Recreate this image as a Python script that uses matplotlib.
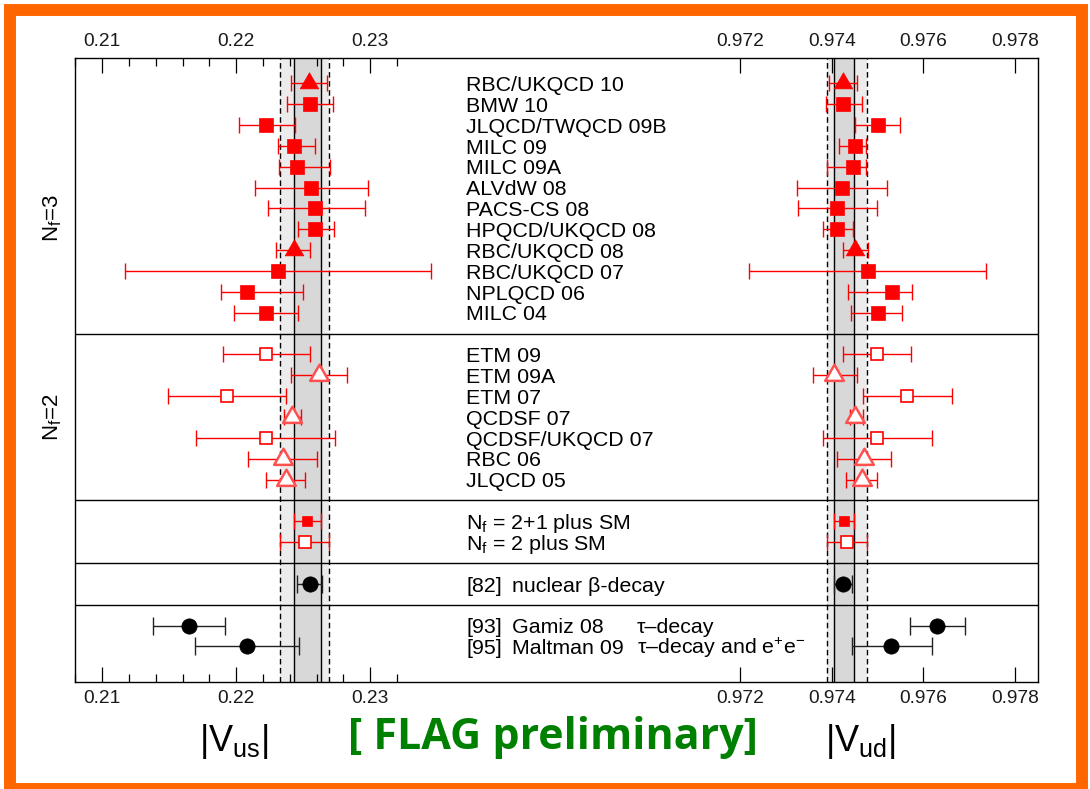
import numpy as np
import matplotlib
matplotlib.use("Agg")
import matplotlib.pyplot as plt
from matplotlib.patches import Rectangle
from matplotlib.path import Path
from matplotlib.transforms import blended_transform_factory

plt.rcParams['font.family'] = ['Liberation Sans', 'DejaVu Sans']
plt.rcParams['mathtext.fontset'] = 'custom'
plt.rcParams['mathtext.rm'] = 'Liberation Sans'
plt.rcParams['mathtext.it'] = 'Liberation Sans:italic'
plt.rcParams['mathtext.bf'] = 'Liberation Sans:bold'

# --- N_f = 3 results ---
labels_nf3 = ['RBC/UKQCD 10', 'BMW 10', 'JLQCD/TWQCD 09B', 'MILC 09', 'MILC 09A',
              'ALVdW 08', 'PACS-CS 08', 'HPQCD/UKQCD 08', 'RBC/UKQCD 08',
              'RBC/UKQCD 07', 'NPLQCD 06', 'MILC 04']
kind_nf3 = ['tri', 'sq', 'sq', 'sq', 'sq', 'sq', 'sq', 'sq', 'tri', 'sq', 'sq', 'sq']
vus_nf3 = [0.2254, 0.2255, 0.2222, 0.2243, 0.2245, 0.2256, 0.2259, 0.2259, 0.2243, 0.2231, 0.2208, 0.2222]
vus_nf3_lo = [0.2241, 0.2238, 0.2202, 0.2231, 0.2232, 0.2214, 0.2224, 0.2246, 0.2230, 0.2117, 0.2189, 0.2198]
vus_nf3_hi = [0.2268, 0.2272, 0.2244, 0.2259, 0.2270, 0.2298, 0.2296, 0.2273, 0.2255, 0.2345, 0.2250, 0.2246]
vud_nf3 = [0.97425, 0.97425, 0.97500, 0.97450, 0.97447, 0.97422, 0.97412, 0.97412, 0.97451, 0.97478, 0.97531, 0.97500]
vud_nf3_lo = [0.97393, 0.97387, 0.97451, 0.97415, 0.97389, 0.97324, 0.97327, 0.97380, 0.97424, 0.97220, 0.97436, 0.97442]
vud_nf3_hi = [0.97455, 0.97465, 0.97548, 0.97475, 0.97475, 0.97520, 0.97498, 0.97446, 0.97479, 0.97737, 0.97575, 0.97554]

# --- N_f = 2 results ---
labels_nf2 = ['ETM 09', 'ETM 09A', 'ETM 07', 'QCDSF 07', 'QCDSF/UKQCD 07', 'RBC 06', 'JLQCD 05']
kind_nf2 = ['sq', 'tri', 'sq', 'tri', 'sq', 'tri', 'tri']
vus_nf2 = [0.2222, 0.2262, 0.2193, 0.2242, 0.2222, 0.2235, 0.2237]
vus_nf2_lo = [0.2190, 0.2241, 0.2149, 0.2236, 0.2170, 0.2209, 0.2222]
vus_nf2_hi = [0.2255, 0.2283, 0.2237, 0.2248, 0.2274, 0.2260, 0.2251]
vud_nf2 = [0.97498, 0.97405, 0.97565, 0.97451, 0.97498, 0.97470, 0.97466]
vud_nf2_lo = [0.97424, 0.97358, 0.97467, 0.97440, 0.97380, 0.97411, 0.97430]
vud_nf2_hi = [0.97573, 0.97455, 0.97662, 0.97469, 0.97619, 0.97530, 0.97498]

# --- lattice + Standard Model averages (also give the bands) ---
labels_sm = [r'N$_\mathrm{f}$ = 2+1 plus SM', r'N$_\mathrm{f}$ = 2 plus SM']
vus_sm = [0.2253, 0.2251]
vus_sm_lo = [0.2243, 0.2233]
vus_sm_hi = [0.2263, 0.2269]
vud_sm = [0.97427, 0.97432]
vud_sm_lo = [0.97405, 0.97389]
vud_sm_hi = [0.97448, 0.97476]

# --- nuclear beta decay ---
ref_beta = '[82]'
label_beta = 'nuclear \u03b2-decay'
vus_beta, vus_beta_lo, vus_beta_hi = 0.2255, 0.2245, 0.2264
vud_beta, vud_beta_lo, vud_beta_hi = 0.97424, 0.97405, 0.97445

# --- tau decay ---
refs_tau = ['[93]', '[95]']
names_tau = ['Gamiz 08', 'Maltman 09']
methods_tau = ['\u03c4\u2013decay', '\u03c4\u2013decay and e$^{+}$e$^{-}$']
vus_tau = [0.2165, 0.2208]
vus_tau_lo = [0.2138, 0.2169]
vus_tau_hi = [0.2192, 0.2247]
vud_tau = [0.97630, 0.97530]
vud_tau_lo = [0.97570, 0.97443]
vud_tau_hi = [0.97690, 0.97618]

# row positions
y3 = np.arange(1, 13)
y2 = np.arange(14, 21)
ysm = [22, 23]
ybeta = 25
ytau = [27, 28]
seps = [13, 21, 24, 26]

W, H = 1090, 789
fig = plt.figure(figsize=(W / 100, H / 100), dpi=100)

L, R, T, B, S = 75.4, 1037.8, 58.3, 681.7, 560.0
ax = fig.add_axes([L / W, 1 - B / H, (R - L) / W, (B - T) / H], zorder=3)
axl = fig.add_axes([L / W, 1 - B / H, (S - L) / W, (B - T) / H], zorder=1)
axr = fig.add_axes([S / W, 1 - B / H, (R - S) / W, (B - T) / H], zorder=1)

for a in (ax, axl, axr):
    a.set_ylim(29.69, -0.2)
ax.patch.set_visible(False)
ax.set_xlim(0, 1)
ax.set_xticks([])
ax.set_yticks([])
for sp in ax.spines.values():
    sp.set_linewidth(1.0)
for a in (axl, axr):
    a.patch.set_visible(False)
    for sp in a.spines.values():
        sp.set_visible(False)
    a.set_yticks([])

axl.set_xlim(0.20804, 0.244163)
axr.set_xlim(0.968062, 0.978498)

axl.set_xticks([0.21, 0.22, 0.23])
axl.set_xticklabels(['0.21', '0.22', '0.23'])
axl.set_xticks([v for v in np.arange(0.208, 0.2325, 0.002)
                if min(abs(v - m) for m in (0.21, 0.22, 0.23)) > 1e-6], minor=True)
axr.set_xticks([0.972, 0.974, 0.976, 0.978])
axr.set_xticklabels(['0.972', '0.974', '0.976', '0.978'])
for a in (axl, axr):
    a.tick_params(axis='x', which='both', direction='in', top=True, bottom=True,
                  labeltop=True, labelbottom=True, width=0.9, pad=6,
                  labelsize=13.8, labelcolor='#1a1a1a')
    a.tick_params(axis='x', which='major', length=11)
    a.tick_params(axis='x', which='minor', length=6)

# bands from the lattice + SM averages
for a, lo, hi in ((axl, vus_sm_lo, vus_sm_hi), (axr, vud_sm_lo, vud_sm_hi)):
    a.axvspan(lo[1], hi[1], color='#ececec', lw=0, zorder=0.5)
    a.axvspan(lo[0], hi[0], color='#d8d8d8', lw=0, zorder=0.6)
    for v in (lo[0], hi[0]):
        a.axvline(v, color='black', lw=1.0, zorder=0.8)
    for v in (lo[1], hi[1]):
        a.axvline(v, color='black', lw=1.0, ls=(0, (4, 2.5)), zorder=0.8)

for s in seps:
    ax.axhline(s, color='black', lw=1.0)

tri = Path([(-1, -0.577), (1, -0.577), (0, 1.155), (-1, -0.577)], closed=True)


def point(a, x, lo, hi, y, marker, ms, mfc, mec, mew, ecolor, cap):
    a.errorbar([x], [y], xerr=[[x - lo], [hi - x]], fmt='none', ecolor=ecolor,
               elinewidth=1.0, capsize=cap, capthick=1.0, zorder=2)
    a.plot([x], [y], ls='none', marker=marker, ms=ms, mfc=mfc, mec=mec,
           mew=mew, zorder=3)


for a, vals, los, his in ((axl, vus_nf3, vus_nf3_lo, vus_nf3_hi),
                          (axr, vud_nf3, vud_nf3_lo, vud_nf3_hi)):
    for v, lo, hi, y, k in zip(vals, los, his, y3, kind_nf3):
        if k == 'tri':
            point(a, v, lo, hi, y, tri, 15.5, 'red', 'red', 0.5, 'red', 5.5)
        else:
            point(a, v, lo, hi, y, 's', 10, 'red', 'red', 0.5, 'red', 5.5)

for a, vals, los, his in ((axl, vus_nf2, vus_nf2_lo, vus_nf2_hi),
                          (axr, vud_nf2, vud_nf2_lo, vud_nf2_hi)):
    for v, lo, hi, y, k in zip(vals, los, his, y2, kind_nf2):
        if k == 'tri':
            point(a, v, lo, hi, y, tri, 15.5, 'white', '#ff5050', 1.8, 'red', 6)
        else:
            point(a, v, lo, hi, y, 's', 8.5, 'white', 'red', 1.2, 'red', 6)

for a, vals, los, his in ((axl, vus_sm, vus_sm_lo, vus_sm_hi),
                          (axr, vud_sm, vud_sm_lo, vud_sm_hi)):
    point(a, vals[0], los[0], his[0], ysm[0], 's', 7.5, 'red', 'red', 0.5, 'red', 6)
    point(a, vals[1], los[1], his[1], ysm[1], 's', 8.5, 'white', 'red', 1.2, 'red', 6)

point(axl, vus_beta, vus_beta_lo, vus_beta_hi, ybeta, 'o', 11, 'black', 'black', 0.5, '#222222', 6.5)
point(axr, vud_beta, vud_beta_lo, vud_beta_hi, ybeta, 'o', 11, 'black', 'black', 0.5, '#222222', 6.5)
for a, vals, los, his in ((axl, vus_tau, vus_tau_lo, vus_tau_hi),
                          (axr, vud_tau, vud_tau_lo, vud_tau_hi)):
    for v, lo, hi, y in zip(vals, los, his, ytau):
        point(a, v, lo, hi, y, 'o', 11, 'black', 'black', 0.5, '#222222', 6.5)

# labels in the middle
tr = blended_transform_factory(ax.transAxes, ax.transData)
def fx(px):
    return (px - L) / (R - L)

fs = 15.4
dy = 0.37
for lab, y in zip(labels_nf3, y3):
    ax.text(fx(466), y + dy, lab, transform=tr, fontsize=fs, va='baseline')
for lab, y in zip(labels_nf2, y2):
    ax.text(fx(466), y + dy, lab, transform=tr, fontsize=fs, va='baseline')
for lab, y in zip(labels_sm, ysm):
    ax.text(fx(466), y + dy, lab, transform=tr, fontsize=fs, va='baseline')
ax.text(fx(466), ybeta + dy, ref_beta, transform=tr, fontsize=fs, va='baseline')
ax.text(fx(512), ybeta + dy, label_beta, transform=tr, fontsize=fs, va='baseline')
for r, n, m, y in zip(refs_tau, names_tau, methods_tau, ytau):
    ax.text(fx(466), y + dy, r, transform=tr, fontsize=fs, va='baseline')
    ax.text(fx(512), y + dy, n, transform=tr, fontsize=fs, va='baseline')
    ax.text(fx(637), y + dy, m, transform=tr, fontsize=fs, va='baseline')

ax.text(fx(53), 7.46, r'N$_\mathrm{f}$=3', transform=tr, rotation=90,
        fontsize=16, ha='center', va='center')
ax.text(fx(53), 16.99, r'N$_\mathrm{f}$=2', transform=tr, rotation=90,
        fontsize=16, ha='center', va='center')

fig.text(234 / W, 1 - 751 / H, r'|V$_\mathrm{us}$|', fontsize=26, ha='center', va='baseline')
fig.text(861 / W, 1 - 751 / H, r'|V$_\mathrm{ud}$|', fontsize=26, ha='center', va='baseline')
fig.text(552.5 / W, 1 - 749 / H, '[ FLAG preliminary]', fontsize=31, fontweight='bold',
         family=['Open Sans', 'DejaVu Sans'], color='#008000', ha='center', va='baseline')

# orange frame round the slide
fig.patches.append(Rectangle((9.5 / W, 0), (1082 - 9.5) / W, 1 - 9.5 / H,
                             transform=fig.transFigure, fill=False,
                             edgecolor='#ff6600', lw=8.6, clip_on=False))

fig.savefig('out.png', dpi=100)
